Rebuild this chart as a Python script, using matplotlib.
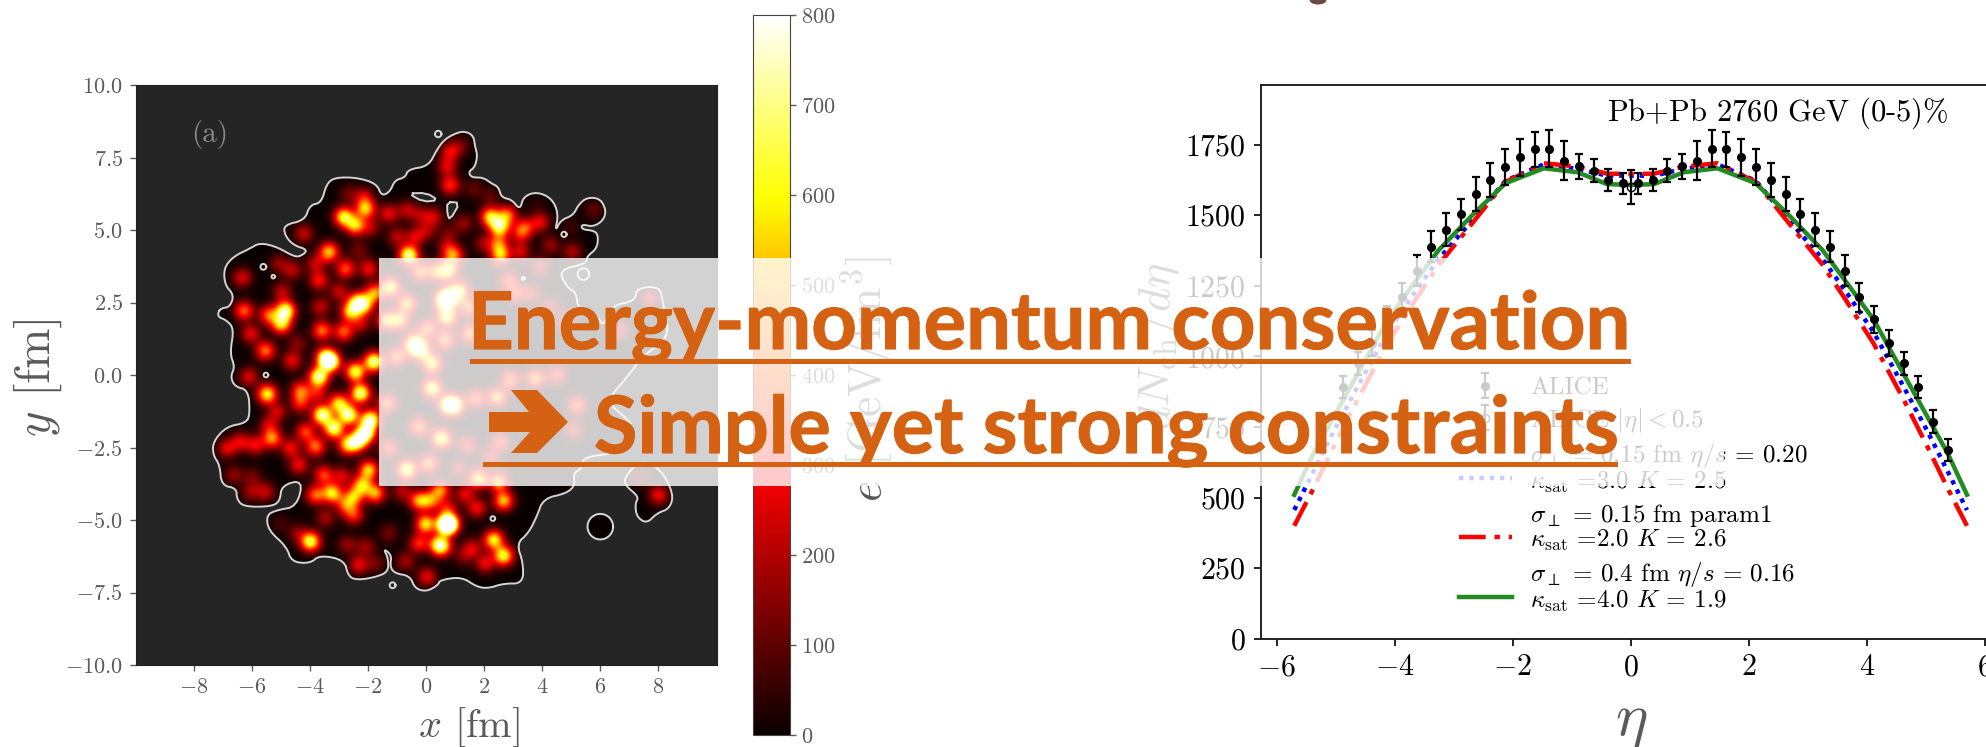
#!/usr/bin/env python3
import numpy as np
import matplotlib
matplotlib.use("Agg")
import matplotlib.pyplot as plt
import matplotlib.patheffects as pe
from matplotlib.legend_handler import HandlerLine2D
from matplotlib.patches import Ellipse, Polygon, Rectangle, PathPatch
from matplotlib.path import Path

plt.rcParams['font.family'] = ['cmr10', 'DejaVu Sans']
plt.rcParams['mathtext.fontset'] = 'cm'
plt.rcParams['axes.formatter.use_mathtext'] = True
plt.rcParams['axes.unicode_minus'] = False

W, H = 1986, 747
ORANGE = '#D56213'
GRAY = '#5a5a5a'
BG = '#252525'

# hot spots of the energy density map: x [fm], y [fm], e
blobs = [
    (-6.35, 3.36, 260), (-6.29, 2.22, 420), (-6.06, 1.43, 280), (-5.55, 0.84, 450), (-5.43, 2.07, 420),
    (-4.86, 2.22, 760), (-5.0, 1.76, 600), (-4.63, 3.62, 220), (-5.09, 3.85, 160), (-4.97, 2.87, 220),
    (-4.23, 4.88, 230), (-4.63, 0.49, 280), (-4.45, 1.09, 150), (-3.65, 2.35, 230), (-3.6, 1.53, 450),
    (-3.71, 3.27, 320), (-3.82, 3.85, 230), (-3.36, 4.25, 560), (-2.79, 3.67, 400), (-3.02, 2.87, 230),
    (-2.85, 1.49, 420), (-3.48, 0.6, 650), (-3.3, 0.45, 760), (-2.85, 5.46, 650), (-2.1, 5.74, 560),
    (-2.45, 5.17, 560), (-1.93, 5.1, 200), (-2.68, 6.26, 120), (-2.16, 6.15, 230), (-1.3, 5.57, 280),
    (-0.67, 5.69, 220), (-0.2, 5.51, 180), (0.25, 5.46, 230), (-1.01, 4.77, 220), (-0.38, 4.77, 260),
    (0.02, 5.0, 180), (-0.61, 4.13, 800), (-1.99, 3.67, 300), (-2.33, 4.31, 130), (-2.62, 2.18, 560),
    (-2.16, 2.41, 560), (-1.81, 2.81, 500), (-2.39, 2.53, 520), (-1.81, 0.46, 800), (-2.27, 1.78, 230),
    (-1.24, 3.04, 650), (-0.67, 2.47, 550), (-0.21, 3.56, 450), (0.37, 3.56, 450), (0.6, 2.58, 800),
    (-1.36, 1.89, 550), (-0.9, 1.89, 500), (0.02, 1.6, 450), (-0.44, 1.09, 750), (-0.21, 0.86, 700),
    (0.19, 0.4, 650), (-1.01, 0.63, 450),
    (0.82, 7.7, 280), (0.71, 7.18, 260), (0.82, 6.55, 350), (1.17, 7.93, 120), (1.63, 6.43, 110),
    (2.2, 6.15, 100), (0.77, 4.88, 120), (2.2, 5.46, 600), (2.52, 5.11, 680), (2.78, 5.52, 450),
    (2.49, 4.54, 380), (3.24, 4.88, 280), (3.41, 5.11, 300), (3.92, 5.28, 280), (3.24, 4.25, 260),
    (4.27, 4.48, 170), (5.03, 4.25, 200), (5.76, 5.69, 110), (4.96, 5.11, 60), (3.81, 5.92, 40),
    (1.28, 5.23, 170), (1.97, 4.54, 180), (0.94, 4.13, 450), (2.55, 4.13, 550), (0.71, 4.42, 200),
    (0.77, 3.62, 600), (0.82, 2.7, 700), (1.17, 2.93, 550), (0.71, 2.01, 700), (1.51, 1.43, 500),
    (0.65, 1.2, 500), (2.83, 3.27, 350), (3.92, 3.73, 250), (3.06, 2.81, 330), (3.6, 2.81, 260),
    (1.46, 2.35, 450), (7.71, 2.64, 260), (6.68, 1.55, 250), (4.27, 2.35, 230), (4.84, 1.89, 220),
    (-6.12, -0.06, 260), (-5.49, -0.66, 650), (-4.34, -0.54, 420), (-4.34, -0.98, 320), (-3.71, -0.06, 800),
    (-3.77, -0.63, 280), (-2.45, 0.11, 700), (-3.59, -1.38, 800), (-3.02, -0.98, 600), (-2.27, -0.63, 780),
    (-2.68, -1.38, 780), (-3.19, -1.84, 760), (-2.1, -2.01, 800), (-1.93, -1.55, 800), (-2.39, -2.3, 700),
    (-2.73, -2.42, 500), (-5.14, -1.27, 240), (-5.43, -1.73, 230), (-5.32, -2.19, 480), (-4.17, -1.96, 380),
    (-5.89, -2.42, 290), (-6.41, -2.3, 270), (-6.87, -2.53, 270), (-4.68, -2.53, 300), (-3.82, -2.47, 450),
    (-4.4, -3.11, 290), (-6.64, -3.45, 160), (-6.0, -3.51, 130), (-6.06, -4.03, 170), (-5.55, -4.03, 230),
    (-3.54, -3.45, 380), (-2.91, -3.49, 260), (-1.99, -3.28, 580), (-2.22, -3.8, 550), (-3.82, -4.14, 430),
    (-3.25, -4.08, 620), (-2.5, -4.2, 480), (-1.76, -4.08, 520), (-2.79, -4.49, 370), (-2.5, -4.83, 340),
    (-3.48, -4.94, 190), (-4.0, -5.75, 720), (-4.45, -5.46, 150), (-5.03, -5.12, 70), (-2.73, -5.86, 170),
    (-2.1, -5.92, 180), (-2.33, -6.55, 280), (-1.76, -6.5, 130), (-1.3, -5.46, 130), (-0.72, -6.44, 190),
    (0.02, -6.96, 280), (-0.26, -5.81, 350), (0.42, -5.86, 500), (-0.03, -5.14, 620), (0.69, -5.17, 780),
    (-0.26, -4.34, 500), (0.14, -4.34, 420), (0.48, -3.97, 480), (-0.84, -4.03, 210), (0.19, -0.46, 720),
    (-1.36, -0.98, 450), (-0.26, -1.78, 450), (0.48, -2.19, 350), (-1.3, -2.53, 350), (-0.67, -3.26, 750),
    (0.08, -3.05, 500), (0.71, -1.04, 600),
    (0.96, -1.04, 800), (1.69, -0.81, 400), (2.43, -0.77, 550), (3.75, -0.12, 500), (2.89, -0.17, 450),
    (4.5, 0.0, 350), (5.19, -1.04, 400), (5.07, -1.9, 270), (2.55, -2.3, 370), (1.4, -2.42, 320),
    (0.54, -2.19, 400), (1.11, -3.22, 230), (1.8, -3.57, 620), (2.49, -3.68, 550), (2.2, -2.82, 250),
    (1.74, -4.6, 300), (2.66, -4.34, 560), (1.34, -4.11, 280), (0.71, -4.6, 280), (0.77, -5.14, 780),
    (2.32, -5.69, 640), (2.66, -6.24, 680), (1.57, -5.98, 260), (2.03, -6.5, 290), (0.54, -5.92, 420),
    (8.0, -4.14, 300), (7.37, -3.51, 110), (1.28, -6.27, 140),
]

# white iso-contour of the map
outline_main = [
    (-7.15, 2.18), (-7.04, 2.3), (-6.75, 2.35), (-6.61, 2.76), (-6.92, 3.1), (-6.96, 3.68), (-6.64, 4.08),
    (-6.06, 4.36), (-5.72, 4.56), (-5.14, 4.42), (-4.57, 4.1), (-4.34, 4.08), (-4.05, 4.31), (-4.57, 4.48),
    (-4.86, 4.82), (-4.89, 5.17), (-4.17, 5.34), (-4.0, 5.86), (-3.6, 5.94), (-3.42, 6.6), (-3.13, 6.81),
    (-2.39, 6.81), (-1.7, 6.6), (-1.53, 6.17), (-1.24, 6.32), (-1.07, 6.72), (-0.72, 6.81), (-0.61, 7.09),
    (0.08, 7.2), (0.37, 7.76), (0.6, 8.08), (0.88, 8.27), (1.28, 8.42), (1.63, 8.27), (1.69, 7.87),
    (1.77, 7.58), (1.69, 7.18), (1.46, 7.0), (1.57, 6.81), (1.97, 6.81), (2.26, 6.6), (2.49, 6.49),
    (2.6, 6.12), (2.95, 6.05), (3.24, 5.69), (3.35, 6.15), (3.81, 6.32), (4.33, 6.09), (4.56, 5.57),
    (4.44, 4.94), (4.64, 5.34), (5.07, 5.51), (5.24, 5.86), (5.53, 6.12), (5.99, 6.09), (6.2, 5.69),
    (6.11, 5.34), (5.76, 5.11), (5.36, 5.2), (5.36, 5.02), (5.82, 4.97), (5.93, 4.77), (5.88, 4.36),
    (5.53, 4.08), (5.53, 3.85), (4.56, 3.62), (4.84, 3.04), (5.19, 2.81), (5.21, 2.3), (5.9, 2.05),
    (6.1, 1.65), (6.4, 2.4), (7.2, 2.55), (7.25, 3.0), (8.05, 3.05), (8.15, 2.5), (8.4, 1.3), (7.5, 0.7),
    (6.9, -0.1), (6.2, -0.9), (6.9, -1.5), (7.14, -1.78), (6.56, -2.7), (5.42, -2.82), (5.36, -3.22),
    (5.07, -3.39), (5.13, -3.8), (4.84, -4.08), (4.04, -4.26), (3.81, -4.89), (3.52, -5.46), (3.12, -5.81),
    (3.35, -6.5), (3.33, -7.19), (2.66, -7.19), (2.14, -7.36), (1.74, -7.3), (1.23, -6.96), (0.48, -7.07),
    (0.42, -7.24), (0.02, -7.47), (-0.38, -7.36), (-0.55, -6.93), (-1.07, -6.84), (-1.24, -6.61),
    (-1.18, -6.21), (-1.47, -5.98), (-1.3, -6.32), (-1.3, -6.78), (-1.7, -6.96), (-2.33, -7.07), (-2.67, -6.96),
    (-2.81, -6.38), (-3.65, -6.21), (-4.0, -6.5), (-4.63, -6.44), (-4.8, -5.92), (-5.43, -5.35), (-5.49, -4.83),
    (-5.14, -4.66), (-4.45, -4.54), (-4.23, -3.62), (-4.97, -3.8), (-5.03, -4.37), (-5.37, -4.54), (-6.29, -4.54),
    (-6.52, -4.26), (-6.52, -3.91), (-7.04, -3.8), (-7.1, -3.1), (-7.33, -2.76), (-7.33, -2.3), (-6.87, -1.78),
    (-6.18, -1.65), (-6.06, -1.32), (-6.12, -0.52), (-6.58, -0.4), (-6.73, -0.06), (-6.58, 0.28), (-6.75, 0.74),
    (-6.61, 1.6), (-6.87, 1.89), (-7.15, 2.0),
]
outline_lobe = [
    (6.85, -3.51), (7.37, -2.93), (8.06, -3.22), (8.52, -4.08), (8.4, -4.6), (7.94, -4.77), (7.6, -5.12),
    (7.25, -4.89), (7.2, -4.43), (7.33, -4.2), (6.85, -3.8),
]
outline_hole1 = [(-0.61, 6.26), (0.02, 6.28), (0.42, 6.03), (-0.09, 5.97)]
outline_hole2 = [(0.73, 5.97), (1.17, 5.94), (0.82, 5.34), (0.73, 5.57)]
# small closed contours: x, y, radius
ring_x = [6.0, -5.6, -5.26, 0.42, -5.51, -1.15, 2.3, 5.42, 3.35, 4.75]
ring_y = [-5.23, 3.73, 3.39, 8.31, 0.0, -7.25, -4.95, 3.48, 3.33, 4.85]
ring_r = [0.44, 0.1, 0.06, 0.11, 0.08, 0.1, 0.08, 0.2, 0.05, 0.09]

x_ticks = [-8, -6, -4, -2, 0, 2, 4, 6, 8]
y_ticks = [-10.0, -7.5, -5.0, -2.5, 0.0, 2.5, 5.0, 7.5, 10.0]
cbar_ticks = [0, 100, 200, 300, 400, 500, 600, 700, 800]

# ALICE points
alice_eta = [-4.875, -4.625, -4.375, -4.125, -3.875, -3.625, -3.375, -3.125, -2.875, -2.625, -2.375, -2.125,
             -1.875, -1.625, -1.375, -1.125, -0.875, -0.625, -0.375, -0.125, 0.125, 0.375, 0.625, 0.875,
             1.125, 1.375, 1.625, 1.875, 2.125, 2.375, 2.625, 2.875, 3.125, 3.375, 3.625, 3.875, 4.125,
             4.375, 4.625, 4.875, 5.125, 5.375]
alice_val = [891, 976, 1047, 1131, 1209, 1303, 1389, 1448, 1503, 1575, 1625, 1670,
             1705, 1733, 1735, 1693, 1673, 1657, 1623, 1613, 1613, 1623, 1657, 1673,
             1693, 1735, 1733, 1705, 1670, 1625, 1575, 1503, 1448, 1389, 1303, 1209, 1131,
             1047, 976, 891, 769, 668]
alice_err = [39, 41, 47, 47, 51, 55, 54, 58, 56, 61, 61, 63,
             65, 63, 65, 68, 45, 41, 39, 37, 37, 39, 41, 45,
             68, 65, 63, 65, 63, 61, 61, 56, 58, 54, 55, 51, 47,
             47, 41, 39, 40, 39]
mid_eta = [0.0]
mid_val = [1601]
mid_err = [60]

curve_eta = [-5.7, -5.38, -5.03, -4.62, -4.12, -3.63, -3.25, -2.65, -2.12, -1.47, -0.9, -0.4, 0.0,
             0.4, 0.9, 1.47, 2.12, 2.65, 3.25, 3.63, 4.12, 4.62, 5.03, 5.38, 5.7]
green = [510, 654, 786, 940, 1130, 1270, 1377, 1507, 1613, 1666, 1652, 1610, 1607,
         1610, 1652, 1666, 1613, 1507, 1377, 1270, 1130, 940, 786, 654, 510]
blue = [456, 590, 735, 895, 1085, 1235, 1345, 1490, 1622, 1680, 1664, 1640, 1640,
        1640, 1664, 1680, 1622, 1490, 1345, 1235, 1085, 895, 735, 590, 456]
red = [400, 530, 680, 850, 1045, 1205, 1325, 1480, 1618, 1684, 1672, 1647, 1646,
       1647, 1672, 1684, 1618, 1480, 1325, 1205, 1045, 850, 680, 530, 400]
eta_ticks = [-6, -4, -2, 0, 2, 4, 6]
dn_ticks = [0, 250, 500, 750, 1000, 1250, 1500, 1750]

def box(left, top, right, bottom):
    return [left / W, 1 - bottom / H, (right - left) / W, (bottom - top) / H]

def fx(px):
    return px / W

def fy(py):
    return 1 - py / H

def rounded(points, passes=2):
    # cut the corners so the contour looks smooth
    pts = np.array(points + points[:1], dtype=float)
    for _ in range(passes):
        q = 0.75 * pts[:-1] + 0.25 * pts[1:]
        r = 0.25 * pts[:-1] + 0.75 * pts[1:]
        pts = np.empty((2 * len(q) + 1, 2))
        pts[0:-1:2] = q
        pts[1:-1:2] = r
        pts[-1] = q[0]
    return pts

class LowLine(HandlerLine2D):
    # legend line sits next to the second text row
    def create_artists(self, legend, orig_handle, xdescent, ydescent, width, height, fontsize, trans):
        return super().create_artists(legend, orig_handle, xdescent, ydescent, width, height - 14.5,
                                      fontsize, trans)

fig = plt.figure(figsize=(W / 100, H / 100), dpi=100)

# -------- left: energy density map --------
ax1 = fig.add_axes(box(135.5, 85, 716.5, 665))
ax1.set_facecolor(BG)
gx = np.linspace(-10, 10, 801)
gg_x, gg_y = np.meshgrid(gx, gx)
field = np.zeros_like(gg_x)
for bx, by, be in blobs:
    field += 0.92 * be * np.exp(-((gg_x - bx) ** 2 + (gg_y - by) ** 2) / (2 * 0.235 ** 2))
im = ax1.imshow(field, extent=(-10, 10, -10, 10), origin='lower', cmap='hot', vmin=0, vmax=800,
                interpolation='bilinear', aspect='auto')
rings = [rounded(outline_main), rounded(outline_lobe)]
theta = np.linspace(0, 2 * np.pi, 60)
big = np.column_stack([ring_x[0] + ring_r[0] * np.cos(theta), ring_y[0] + ring_r[0] * np.sin(theta)])
verts, codes = [], []
for ring in rings + [big]:
    verts.extend(ring.tolist())
    codes.extend([Path.MOVETO] + [Path.LINETO] * (len(ring) - 2) + [Path.CLOSEPOLY])
clip = PathPatch(Path(verts, codes), transform=ax1.transData, facecolor='none', edgecolor='none')
ax1.add_patch(clip)
im.set_clip_path(clip)
for hole in [outline_hole1, outline_hole2]:
    pts = rounded(hole, 1)
    ax1.fill(pts[:, 0], pts[:, 1], color=BG, zorder=3)
    rings.append(pts)
for ring in rings:
    ax1.plot(ring[:, 0], ring[:, 1], color='#d4d4d4', lw=1.4, zorder=4)
for rx, ry, rr in zip(ring_x, ring_y, ring_r):
    ax1.plot(rx + rr * np.cos(theta), ry + rr * np.sin(theta), color='#d8d8d8', lw=1.4, zorder=4)
ax1.set_xlim(-10, 10)
ax1.set_ylim(-10, 10)
ax1.set_xticks(x_ticks)
ax1.set_xticklabels([f"${v}$" for v in x_ticks])
ax1.set_yticks(y_ticks)
ax1.set_yticklabels([f"${v:.1f}$" for v in y_ticks])
ax1.tick_params(labelsize=16, colors=GRAY, length=4, width=1, pad=5)
for s in ax1.spines.values():
    s.set_color('#222222')
ax1.text(-7.44, 8.28, "(a)", fontsize=21, color='#8a8a8a', ha='center', va='center')
fig.text(fx(469), fy(727), r"$x$ [fm]", fontsize=29, color=GRAY, ha='center', va='center')
fig.text(fx(38), fy(378), r"$y$ [fm]", fontsize=35, color=GRAY, rotation=90, ha='center', va='center')

# colorbar
cax = fig.add_axes(box(752.5, 15, 789.5, 735))
cb = fig.colorbar(im, cax=cax)
cb.set_ticks(cbar_ticks)
cb.set_ticklabels([f"${v}$" for v in cbar_ticks])
cax.tick_params(labelsize=16, colors=GRAY, length=4, width=1, pad=4)
cb.outline.set_edgecolor('#444444')
fig.text(fx(868), fy(379), r"$e$ [GeV/fm$^3$]", fontsize=33, color=GRAY, rotation=90, ha='center', va='center')

# -------- right: dN/deta --------
ax2 = fig.add_axes(box(1260.6, 84.7, 2000.6, 638.8))
line_b, = ax2.plot(curve_eta, blue, color='blue', lw=3.2, ls=(0, (1, 1.3)),
                   label="$\\sigma_\\perp$ = 0.15 fm $\\eta/s$ = 0.20\n$\\kappa_{\\mathrm{sat}}$ =3.0 $K$ = 2.5")
line_r, = ax2.plot(curve_eta, red, color='red', lw=3.2, ls=(0, (6, 2, 1.2, 2)),
                   label="$\\sigma_\\perp$ = 0.15 fm param1\n$\\kappa_{\\mathrm{sat}}$ =2.0 $K$ = 2.6")
line_g, = ax2.plot(curve_eta, green, color='#228B22', lw=3.2,
                   label="$\\sigma_\\perp$ = 0.4 fm $\\eta/s$ = 0.16\n$\\kappa_{\\mathrm{sat}}$ =4.0 $K$ = 1.9")
eb1 = ax2.errorbar(alice_eta, alice_val, yerr=alice_err, fmt='o', color='black', ms=5.5, elinewidth=1.6,
                   capsize=3.2, capthick=1.6, label="ALICE", zorder=5)
eb2 = ax2.errorbar(mid_eta, mid_val, yerr=mid_err, fmt='o', mfc='none', color='black', ms=6, elinewidth=1.6,
                   capsize=3.2, capthick=1.6, label="ALICE $|\\eta| < 0.5$", zorder=5)
ax2.set_xlim(-6.27, 6.27)
ax2.set_ylim(0, 1962)
ax2.set_xticks(eta_ticks)
ax2.set_xticklabels([f"${v}$" for v in eta_ticks])
ax2.set_yticks(dn_ticks)
ax2.set_yticklabels([f"${v}$" for v in dn_ticks])
ax2.tick_params(labelsize=21.5, length=5, width=1.2, pad=6)
for s in ax2.spines.values():
    s.set_linewidth(1.4)
    s.set_color('#222222')
leg = ax2.legend([eb1, eb2, line_b, line_r, line_g],
                 ["ALICE", "ALICE $|\\eta| < 0.5$", line_b.get_label(), line_r.get_label(), line_g.get_label()],
                 handler_map={line_b: LowLine(), line_r: LowLine(), line_g: LowLine()},
                 frameon=False, fontsize=18,
                 loc='lower left', bbox_to_anchor=(fx(1459), fy(614)), bbox_transform=fig.transFigure,
                 handlelength=2.1, handletextpad=0.75, labelspacing=0.27, borderpad=0, borderaxespad=0)
for t in leg.get_texts():
    t.set_linespacing(0.98)
fig.text(fx(1778), fy(113), r"Pb$+$Pb 2760 GeV (0-5)%", fontsize=22, ha='center', va='center')
fig.text(fx(1158), fy(346), r"$dN_{\mathrm{ch}}/d\eta$", fontsize=33, color=GRAY, rotation=90,
         ha='center', va='center')
fig.text(fx(1631), fy(722), r"$\eta$", fontsize=44, color=GRAY, ha='center', va='center')

# -------- slide overlay --------
fig.add_artist(Rectangle((fx(379), fy(485.5)), fx(1724 - 379), (485.5 - 258) / H, transform=fig.transFigure,
                         facecolor='white', alpha=0.8, edgecolor='none', zorder=5))
heavy = [pe.withStroke(linewidth=0.8, foreground=ORANGE)]
fig.text(fx(1050), fy(349), "Energy-momentum conservation", family=['Lato'], fontweight='bold', fontsize=57.3,
         color=ORANGE, ha='center', va='baseline', zorder=6, path_effects=heavy)
fig.text(fx(1106), fy(453), "Simple yet strong constraints", family=['Lato'], fontweight='bold', fontsize=57,
         color=ORANGE, ha='center', va='baseline', zorder=6, path_effects=heavy)
arrow_px = [(489, 412), (529, 412), (511, 390), (537, 390), (568, 422), (537, 453), (511, 453), (530, 432), (489, 432)]
arrow = [(fx(px), fy(py)) for px, py in arrow_px]
fig.add_artist(Polygon(arrow, closed=True, transform=fig.transFigure, facecolor=ORANGE, edgecolor='none', zorder=6))
fig.add_artist(Rectangle((fx(470), fy(364)), fx(1631 - 470), 5 / H, transform=fig.transFigure,
                         facecolor=ORANGE, edgecolor='none', zorder=6))
fig.add_artist(Rectangle((fx(483), fy(466.5)), fx(1618 - 483), 5 / H, transform=fig.transFigure,
                         facecolor=ORANGE, edgecolor='none', zorder=6))
# bit of a letter cut off at the top edge
fig.add_artist(Ellipse((fx(1318), fy(0)), 17 / W, 9 / H, transform=fig.transFigure,
                       facecolor='#6b4a44', edgecolor='none', zorder=6))

fig.savefig("out.png", dpi=100)
